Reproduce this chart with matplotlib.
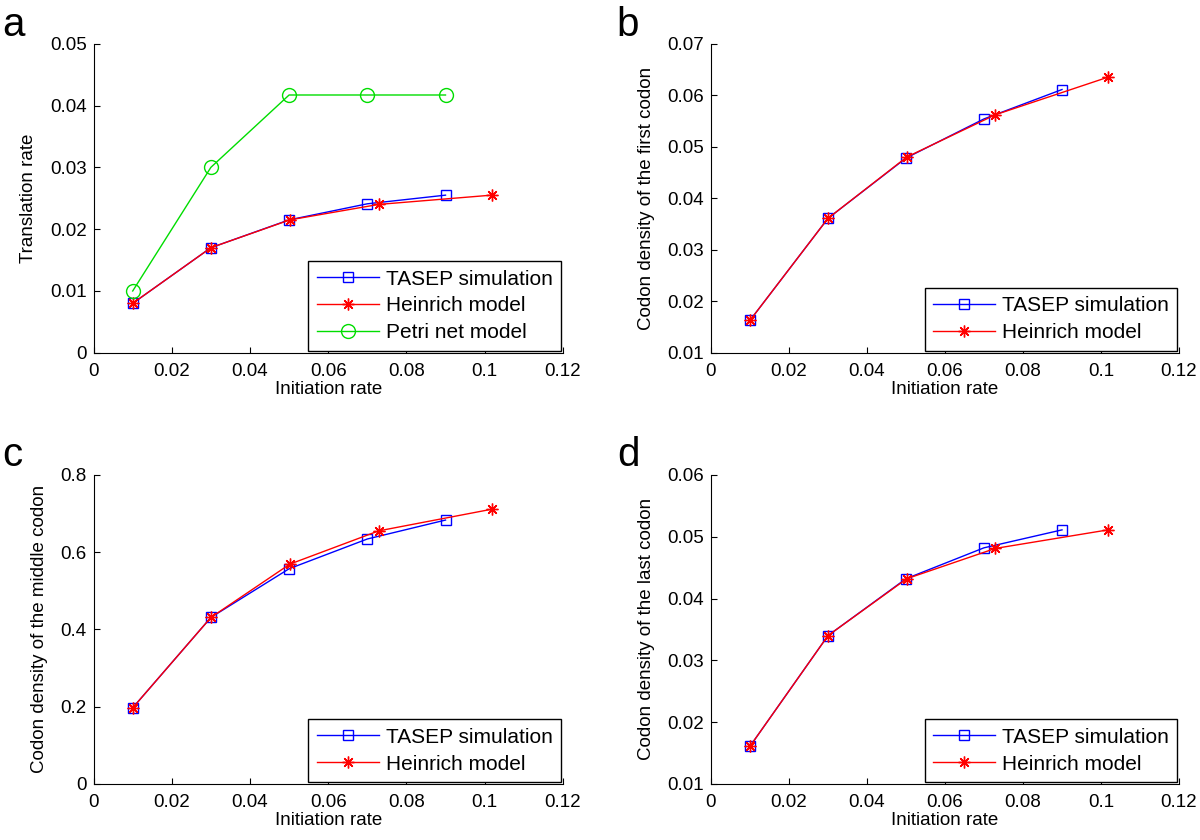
import matplotlib
matplotlib.use('Agg')
import matplotlib.pyplot as plt

plt.rcParams['font.family'] = ['Liberation Sans', 'DejaVu Sans']
plt.rcParams['font.size'] = 13.5

# initiation rates
x_tasep = [0.01, 0.03, 0.05, 0.07, 0.09]
x_heinrich = [0.01, 0.03, 0.0502, 0.0729, 0.1018]
x_petri = [0.01, 0.03, 0.05, 0.07, 0.09]

# a: translation rate
a_tasep = [0.008, 0.017, 0.0215, 0.0241, 0.0255]
a_heinrich = [0.008, 0.017, 0.0215, 0.0240, 0.0255]
a_petri = [0.010, 0.030, 0.0417, 0.0417, 0.0417]

# b: first codon
b_tasep = [0.0163, 0.0361, 0.0478, 0.0554, 0.0611]
b_heinrich = [0.0163, 0.0361, 0.0480, 0.0562, 0.0635]

# c: middle codon
c_tasep = [0.197, 0.431, 0.557, 0.634, 0.683]
c_heinrich = [0.197, 0.431, 0.569, 0.655, 0.711]

# d: last codon
d_tasep = [0.0161, 0.034, 0.0432, 0.0482, 0.0511]
d_heinrich = [0.0161, 0.034, 0.0432, 0.0481, 0.0511]

xticks = [0, 0.02, 0.04, 0.06, 0.08, 0.1, 0.12]

fig = plt.figure(figsize=(12, 8.4), dpi=100)

# letter position (x, y) in figure coords, axes rect
panels = [
    ('a', (0.002, 0.970), [0.078, 0.580, 0.391, 0.368], a_tasep, a_heinrich, a_petri,
     'Translation rate', (0, 0.05), [0, 0.01, 0.02, 0.03, 0.04, 0.05]),
    ('b', (0.514, 0.970), [0.5925, 0.580, 0.390, 0.368], b_tasep, b_heinrich, None,
     'Codon density of the first codon', (0.01, 0.07),
     [0.01, 0.02, 0.03, 0.04, 0.05, 0.06, 0.07]),
    ('c', (0.002, 0.458), [0.078, 0.0667, 0.391, 0.368], c_tasep, c_heinrich, None,
     'Codon density of the middle codon', (0, 0.8), [0, 0.2, 0.4, 0.6, 0.8]),
    ('d', (0.514, 0.458), [0.5925, 0.0667, 0.390, 0.368], d_tasep, d_heinrich, None,
     'Codon density of the last codon', (0.01, 0.06),
     [0.01, 0.02, 0.03, 0.04, 0.05, 0.06]),
]

asterisk = (8, 2, 0)

for letter, lpos, rect, yt, yh, yp, ylabel, ylim, yticks in panels:
    ax = fig.add_axes(rect)
    ax.plot(x_tasep, yt, color='blue', lw=1, marker='s', ms=7.5,
            mfc='none', mec='blue', label='TASEP simulation')
    ax.plot(x_heinrich, yh, color='red', lw=1, marker=asterisk, ms=8.5,
            mec='red', label='Heinrich model')
    if yp is not None:
        ax.plot(x_petri, yp, color='#00dd00', lw=1, marker='o', ms=10,
                mfc='none', mec='#00dd00', label='Petri net model')
    ax.set_xlim(0, 0.12)
    ax.set_ylim(*ylim)
    ax.set_xticks(xticks)
    ax.set_xticklabels(['%g' % v for v in xticks])
    ax.set_yticks(yticks)
    ax.set_yticklabels(['%g' % v for v in yticks])
    ax.tick_params(direction='in', length=4, width=0.8)
    ax.tick_params(axis='x', pad=7)
    ax.tick_params(axis='y', pad=5)
    ax.spines['top'].set_visible(False)
    ax.spines['right'].set_visible(False)
    ax.set_xlabel('Initiation rate', labelpad=1)
    ax.set_ylabel(ylabel, labelpad=9)
    leg = ax.legend(loc='lower right', fancybox=False, edgecolor='black',
                    framealpha=1, borderaxespad=0.1, handlelength=3.0,
                    handletextpad=0.3, labelspacing=0.38, fontsize=15)
    leg.get_frame().set_linewidth(1)
    fig.text(lpos[0], lpos[1], letter, fontsize=29, ha='left', va='center')

fig.savefig('out.png', dpi=100)
